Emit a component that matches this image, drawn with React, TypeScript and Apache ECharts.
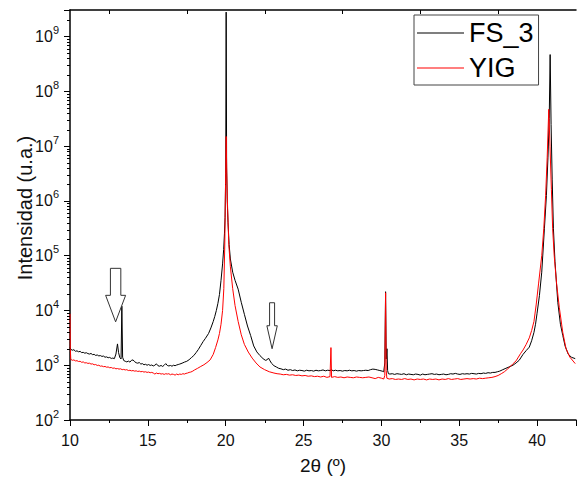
import React, { useEffect, useRef } from "react";
import * as echarts from "echarts";

const seriesNames = ["FS_3", "YIG"];

// FS_3 (black): [2θ, intensity]
const fs3Data: [number, number][] = [
  [10.0, 2100], [10.05, 1950], [10.15, 1880], [10.25, 1920], [10.35, 1800], [10.45, 1830], [10.55, 1760], [10.65, 1790],
  [10.75, 1700], [10.85, 1720], [10.95, 1660], [11.05, 1690], [11.15, 1630], [11.25, 1600], [11.35, 1640], [11.45, 1560],
  [11.55, 1580], [11.65, 1510], [11.75, 1540], [11.85, 1480], [11.95, 1500], [12.05, 1450], [12.15, 1470], [12.25, 1400],
  [12.35, 1420], [12.45, 1370], [12.55, 1390], [12.65, 1330], [12.75, 1350], [12.85, 1320], [12.95, 1600], [13.05, 2450],
  [13.12, 1700], [13.2, 1380], [13.28, 1300], [13.33, 12000], [13.38, 1400], [13.45, 1220], [13.55, 1180], [13.65, 1150],
  [13.75, 1190], [13.85, 1140], [13.95, 1230], [14.05, 1250], [14.15, 1160], [14.25, 1110], [14.35, 1090], [14.45, 1120],
  [14.55, 1050], [14.65, 1070], [14.75, 1020], [14.85, 1040], [14.95, 1000], [15.05, 1030], [15.15, 990], [15.25, 1010],
  [15.35, 970], [15.45, 1000], [15.55, 1060], [15.65, 980], [15.75, 960], [15.85, 990], [15.95, 950], [16.05, 1000],
  [16.15, 1070], [16.25, 990], [16.35, 970], [16.45, 990], [16.55, 960], [16.65, 1000], [16.75, 980], [16.85, 1010],
  [16.95, 1030], [17.05, 1050], [17.2, 1090], [17.35, 1140], [17.5, 1180], [17.65, 1260], [17.8, 1380], [17.95, 1500],
  [18.1, 1700], [18.25, 1950], [18.4, 2300], [18.55, 2700], [18.7, 3100], [18.9, 3800], [19.05, 4800], [19.2, 6300],
  [19.3, 7800], [19.4, 10000], [19.5, 13500], [19.6, 19500], [19.7, 35500], [19.8, 70800], [19.87, 130000], [19.92, 250000],
  [19.96, 500000], [20.0, 3200000], [20.03, 2800000000], [20.06, 4000000], [20.1, 1000000], [20.15, 400000], [20.22, 160000],
  [20.3, 87000], [20.45, 50000], [20.6, 35500], [20.8, 24500], [21.0, 14100], [21.2, 8500], [21.4, 5200], [21.6, 3500],
  [21.8, 2250], [22.0, 1750], [22.2, 1500], [22.4, 1320], [22.55, 1230], [22.65, 1250], [22.75, 1350], [22.85, 1200],
  [22.95, 1080], [23.1, 980], [23.25, 930], [23.4, 880], [23.55, 860], [23.7, 830], [23.85, 850], [24.0, 810],
  [24.15, 830], [24.3, 800], [24.45, 820], [24.6, 790], [24.75, 810], [24.9, 800], [25.05, 780], [25.2, 810],
  [25.35, 790], [25.5, 800], [25.65, 780], [25.8, 810], [25.95, 790], [26.1, 800], [26.25, 820], [26.4, 790],
  [26.55, 810], [26.7, 800], [26.8, 830], [26.9, 790], [27.05, 810], [27.2, 790], [27.35, 800], [27.5, 780],
  [27.65, 800], [27.8, 790], [27.95, 810], [28.1, 790], [28.25, 800], [28.4, 780], [28.55, 800], [28.7, 790],
  [28.85, 800], [29.0, 810], [29.15, 800], [29.3, 830], [29.45, 850], [29.6, 840], [29.75, 820], [29.9, 800],
  [30.05, 780], [30.15, 760], [30.22, 1100], [30.27, 22000], [30.31, 1300], [30.36, 2000], [30.4, 800], [30.45, 700],
  [30.55, 690], [30.7, 700], [30.85, 680], [31.0, 700], [31.15, 690], [31.3, 680], [31.45, 700], [31.6, 670],
  [31.75, 690], [31.9, 680], [32.05, 670], [32.2, 690], [32.35, 680], [32.5, 660], [32.65, 690], [32.8, 670],
  [32.95, 680], [33.1, 690], [33.25, 700], [33.4, 680], [33.55, 690], [33.7, 670], [33.85, 680], [34.0, 690],
  [34.15, 670], [34.3, 680], [34.45, 700], [34.6, 690], [34.75, 710], [34.9, 690], [35.05, 680], [35.2, 700],
  [35.35, 690], [35.5, 700], [35.65, 690], [35.8, 710], [35.95, 700], [36.1, 690], [36.25, 710], [36.4, 700],
  [36.55, 720], [36.7, 710], [36.85, 730], [37.0, 720], [37.15, 740], [37.3, 740], [37.45, 760], [37.6, 780],
  [37.8, 830], [38.0, 880], [38.2, 930], [38.45, 1000], [38.65, 1100], [38.85, 1230], [39.1, 1580], [39.3, 1850],
  [39.5, 2140], [39.65, 2800], [39.8, 3980], [39.9, 5600], [40.0, 8900], [40.15, 18600], [40.3, 50000], [40.47, 310000],
  [40.6, 1260000], [40.7, 6300000], [40.78, 32000000], [40.84, 470000000], [40.9, 25000000], [40.97, 2500000],
  [41.05, 310000], [41.15, 79000], [41.33, 14100], [41.5, 5600], [41.65, 3500], [41.8, 2240], [42.0, 1600],
  [42.2, 1400], [42.45, 1320],
];

// YIG (red): [2θ, intensity]
const yigData: [number, number][] = [
  [10.0, 8700], [10.02, 2000], [10.05, 1280], [10.15, 1230], [10.25, 1250], [10.35, 1200], [10.45, 1210], [10.55, 1170],
  [10.65, 1180], [10.75, 1130], [10.85, 1150], [10.95, 1100], [11.05, 1110], [11.15, 1080], [11.25, 1090], [11.35, 1050],
  [11.45, 1060], [11.55, 1020], [11.65, 1030], [11.75, 990], [11.85, 1000], [11.95, 960], [12.05, 970], [12.15, 940],
  [12.25, 950], [12.35, 920], [12.45, 930], [12.55, 900], [12.65, 910], [12.75, 880], [12.85, 890], [12.95, 860],
  [13.05, 870], [13.15, 850], [13.25, 860], [13.35, 830], [13.45, 840], [13.55, 820], [13.65, 830], [13.75, 800],
  [13.85, 810], [13.95, 790], [14.05, 800], [14.15, 780], [14.25, 790], [14.35, 770], [14.45, 780], [14.55, 760],
  [14.65, 770], [14.75, 750], [14.85, 760], [14.95, 740], [15.05, 750], [15.15, 730], [15.25, 740], [15.35, 720],
  [15.45, 690], [15.55, 720], [15.65, 700], [15.75, 710], [15.85, 690], [15.95, 700], [16.05, 680], [16.15, 700],
  [16.25, 690], [16.35, 700], [16.45, 670], [16.55, 690], [16.65, 680], [16.75, 660], [16.85, 690], [16.95, 670],
  [17.05, 690], [17.15, 680], [17.25, 700], [17.35, 690], [17.45, 710], [17.55, 720], [17.65, 740], [17.75, 750],
  [17.85, 770], [18.0, 820], [18.2, 880], [18.4, 950], [18.6, 1020], [18.8, 1120], [19.0, 1250], [19.2, 1580],
  [19.35, 2100], [19.5, 2900], [19.6, 3800], [19.7, 5600], [19.8, 10000], [19.88, 25000], [19.94, 150000],
  [19.99, 2000000], [20.03, 15000000], [20.07, 3200000], [20.11, 1000000], [20.2, 160000], [20.3, 63000],
  [20.45, 25000], [20.6, 12300], [20.8, 6300], [21.0, 3600], [21.2, 2400], [21.45, 1740], [21.7, 1350], [21.95, 1100],
  [22.2, 930], [22.5, 830], [22.8, 760], [23.1, 720], [23.3, 700], [23.5, 690], [23.7, 670], [23.9, 680],
  [24.1, 660], [24.3, 670], [24.5, 650], [24.7, 660], [24.9, 640], [25.1, 650], [25.3, 630], [25.5, 640],
  [25.7, 620], [25.9, 630], [26.1, 610], [26.3, 630], [26.5, 600], [26.7, 620], [26.76, 2100], [26.8, 600],
  [27.0, 620], [27.2, 600], [27.4, 610], [27.6, 590], [27.8, 610], [28.0, 600], [28.2, 590], [28.4, 610],
  [28.6, 600], [28.8, 590], [29.0, 600], [29.2, 610], [29.4, 590], [29.6, 570], [29.8, 600], [30.0, 580],
  [30.15, 560], [30.22, 650], [30.27, 21000], [30.31, 800], [30.35, 580], [30.5, 560], [30.7, 570], [30.9, 550],
  [31.1, 560], [31.3, 550], [31.5, 570], [31.7, 550], [31.9, 560], [32.1, 540], [32.3, 560], [32.5, 550],
  [32.7, 560], [32.9, 540], [33.1, 560], [33.3, 550], [33.5, 560], [33.7, 540], [33.9, 560], [34.1, 550],
  [34.3, 570], [34.5, 550], [34.7, 560], [34.9, 570], [35.1, 550], [35.3, 560], [35.5, 570], [35.7, 560],
  [35.9, 570], [36.1, 560], [36.3, 580], [36.5, 570], [36.7, 580], [36.9, 590], [37.1, 600], [37.3, 620],
  [37.5, 650], [37.7, 700], [37.9, 760], [38.1, 850], [38.3, 960], [38.46, 1070], [38.65, 1200], [38.8, 1410],
  [38.95, 1650], [39.1, 1900], [39.3, 2400], [39.5, 3160], [39.65, 4300], [39.8, 6300], [39.94, 12600],
  [40.1, 31600], [40.3, 100000], [40.43, 310000], [40.55, 1260000], [40.65, 6300000], [40.75, 47000000],
  [40.83, 10000000], [40.92, 1600000], [41.0, 310000], [41.1, 100000], [41.25, 31600], [41.43, 11200],
  [41.65, 3980], [41.86, 2000], [42.1, 1410], [42.45, 1070],
];

const xMinorTicks = [12.5, 17.5, 22.5, 27.5, 32.5, 37.5];
const yMinorTicks = [
  200, 300, 400, 500, 600, 700, 800, 900,
  2e3, 3e3, 4e3, 5e3, 6e3, 7e3, 8e3, 9e3,
  2e4, 3e4, 4e4, 5e4, 6e4, 7e4, 8e4, 9e4,
  2e5, 3e5, 4e5, 5e5, 6e5, 7e5, 8e5, 9e5,
  2e6, 3e6, 4e6, 5e6, 6e6, 7e6, 8e6, 9e6,
  2e7, 3e7, 4e7, 5e7, 6e7, 7e7, 8e7, 9e7,
  2e8, 3e8, 4e8, 5e8, 6e8, 7e8, 8e8, 9e8,
  2e9, 3e9,
];

// Annotation arrows: [2θ, intensity] of each arrow tip
const arrowTips: [number, number][] = [
  [12.93, 6200],
  [22.98, 2000],
];

const X_MIN = 10;
const X_MAX = 42.5;
const Y_MIN = 100;
const Y_MAX = 3.06e9;

const FONT = "'Liberation Sans', Arial, sans-serif";

export default function App() {
  const ref = useRef<HTMLDivElement>(null);
  useEffect(() => {
    if (!ref.current) return;
    const chart = echarts.init(ref.current, null, { renderer: "svg" });
    const supDigits = (v: number) => {
      const n = Math.round(Math.log10(v));
      if (Math.abs(Math.log10(v) - n) > 1e-6) return "";
      return `{b|10}{s|${n}}`;
    };
    chart.setOption({
      animation: false,
      backgroundColor: "#fff",
      grid: { left: 70, top: 10, width: 510, height: 412 },
      legend: {
        data: seriesNames,
        orient: "vertical",
        left: 414,
        top: 15,
        padding: [2, 5, 1, 3],
        itemGap: 3,
        itemWidth: 47,
        itemHeight: 1,
        icon: "rect",
        borderColor: "#444",
        borderWidth: 1,
        backgroundColor: "#fff",
        textStyle: { fontFamily: FONT, fontSize: 27, color: "#000", lineHeight: 32 },
      },
      xAxis: [
        {
          type: "value",
          min: X_MIN,
          max: X_MAX,
          interval: 5,
          name: "2θ (º)",
          nameLocation: "middle",
          nameGap: 36,
          nameTextStyle: { fontFamily: FONT, fontSize: 19, color: "#111" },
          axisLine: { show: true, onZero: false, lineStyle: { color: "#000", width: 1.5 } },
          axisTick: { show: true, length: 6, lineStyle: { color: "#000", width: 1 } },
          axisLabel: {
            margin: 12,
            fontFamily: FONT,
            fontSize: 16,
            color: "#111",
            formatter: (v: number) => (Math.abs(v % 5) < 1e-9 ? String(v) : ""),
          },
          splitLine: { show: false },
        },
        {
          type: "value",
          position: "top",
          min: X_MIN,
          max: X_MAX,
          interval: 5,
          axisLine: { show: true, onZero: false, lineStyle: { color: "#000", width: 1.5 } },
          axisTick: { show: false },
          axisLabel: { show: false },
          splitLine: { show: false },
        },
      ],
      yAxis: {
        type: "log",
        logBase: 10,
        min: Y_MIN,
        max: Y_MAX,
        axisLine: { show: true, lineStyle: { color: "#000", width: 1.5 } },
        axisTick: { show: true, length: 6, lineStyle: { color: "#000", width: 1 } },
        axisLabel: {
          margin: 11,
          fontFamily: FONT,
          color: "#111",
          formatter: supDigits,
          rich: {
            b: { fontFamily: FONT, fontSize: 16, color: "#111", lineHeight: 16, verticalAlign: "bottom" },
            s: { fontFamily: FONT, fontSize: 11, color: "#111", lineHeight: 11, padding: [0, 0, 9, 0], verticalAlign: "bottom" },
          },
        },
        splitLine: { show: false },
      },
      series: [
        {
          name: "FS_3",
          type: "line",
          data: fs3Data,
          symbol: "none",
          showSymbol: false,
          lineStyle: { color: "#000", width: 1 },
          itemStyle: { color: "#000" },
          z: 2,
        },
        {
          name: "YIG",
          type: "line",
          data: yigData,
          symbol: "none",
          showSymbol: false,
          lineStyle: { color: "#ff0000", width: 1 },
          itemStyle: { color: "#ff0000" },
          z: 3,
        },
      ],
    });

    const px = (x: number, y: number) => chart.convertToPixel({ gridIndex: 0 }, [x, y]) as number[];
    const tick = (x1: number, y1: number, x2: number, y2: number) => ({
      type: "line",
      silent: true,
      z: 50,
      shape: { x1, y1, x2, y2 },
      style: { stroke: "#000", lineWidth: 1 },
    });
    const graphics: any[] = [];
    yMinorTicks.forEach((v) => {
      const p = px(X_MIN, v);
      graphics.push(tick(p[0] - 3, Math.round(p[1]) + 0.5, p[0], Math.round(p[1]) + 0.5));
    });
    xMinorTicks.forEach((v) => {
      const b = px(v, Y_MIN);
      const t = px(v, Y_MAX);
      graphics.push(tick(Math.round(b[0]) + 0.5, b[1], Math.round(b[0]) + 0.5, b[1] + 3));
      graphics.push(tick(Math.round(t[0]) + 0.5, t[1], Math.round(t[0]) + 0.5, t[1] + 4));
    });
    arrowTips.forEach(([x, y], i) => {
      const p = px(x, y);
      const big = i === 0;
      const bw = big ? 5.2 : 2.5; // half body width
      const hw = big ? 10 : 5.2; // half head width
      const hh = big ? 26.5 : 23; // head height
      const bh = big ? 27 : 23; // body height
      const tx = p[0];
      const ty = p[1];
      graphics.push({
        type: "polygon",
        z: 100,
        shape: {
          points: [
            [tx - bw, ty - hh - bh],
            [tx + bw, ty - hh - bh],
            [tx + bw, ty - hh],
            [tx + hw, ty - hh],
            [tx, ty],
            [tx - hw, ty - hh],
            [tx - bw, ty - hh],
          ],
        },
        style: { fill: "#fff", stroke: "#333", lineWidth: 1 },
      });
    });
    graphics.push({
      type: "text",
      x: 25,
      y: 208,
      rotation: Math.PI / 2,
      style: {
        text: "Intensidad (u.a.)",
        fontFamily: FONT,
        fontSize: 20,
        fill: "#111",
        align: "center",
        verticalAlign: "middle",
      },
    });
    chart.setOption({ graphic: graphics });
    return () => chart.dispose();
  }, []);
  return <div ref={ref} style={{ width: 579, height: 480, position: "absolute", left: 0, top: 0 }} />;
}
